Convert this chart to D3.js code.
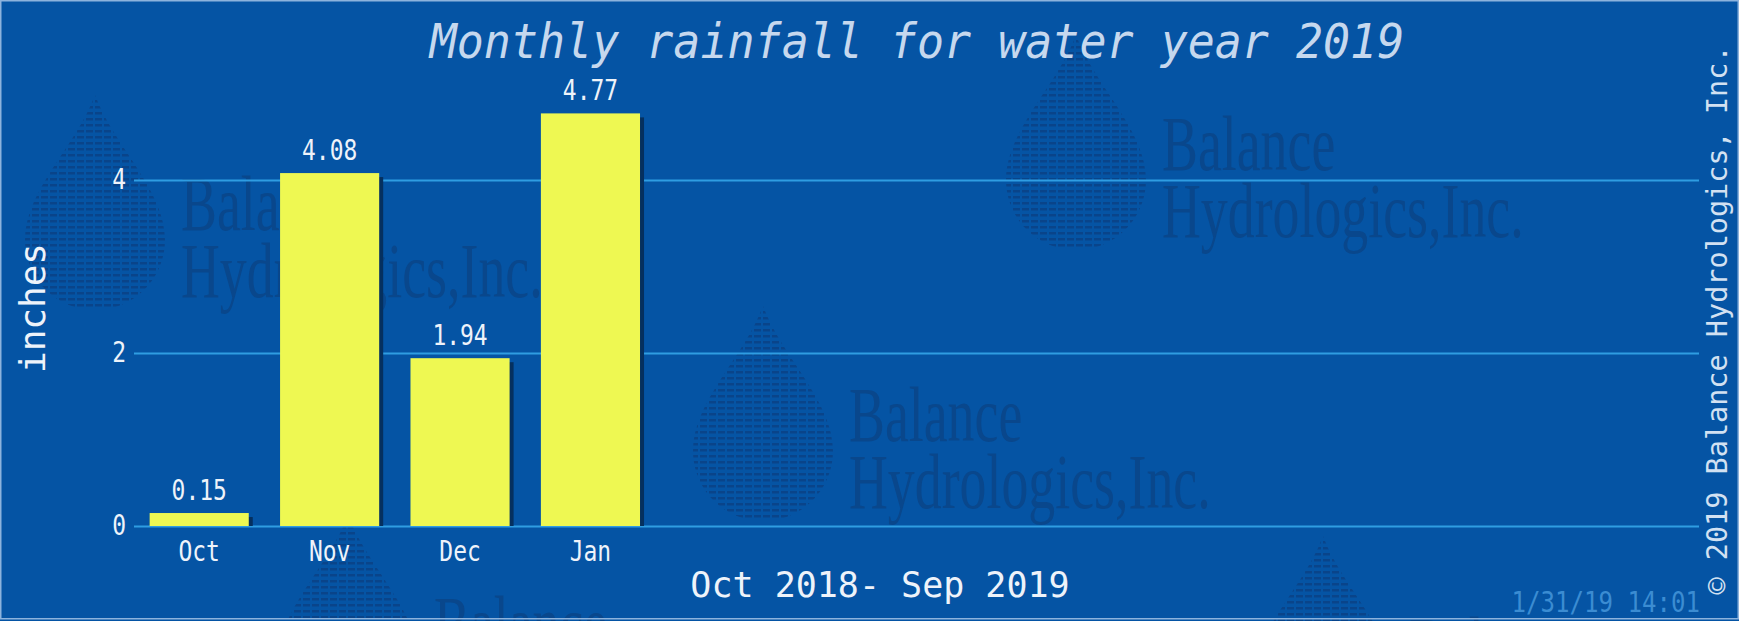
<!DOCTYPE html>
<html>
<head>
<meta charset="utf-8">
<script src="https://cdn.jsdelivr.net/npm/d3@7"></script>
<style>
  html, body { margin: 0; padding: 0; background: #0554a4; }
  svg { display: block; }
</style>
</head>
<body>
<svg id="chart"></svg>
<script>
// data (inches)
const months = ['Oct', 'Nov', 'Dec', 'Jan', 'Feb', 'Mar', 'Apr', 'May', 'Jun', 'Jul', 'Aug', 'Sep'];
const rainMonths = ['Oct', 'Nov', 'Dec', 'Jan'];
const rainfall = [0.15, 4.08, 1.94, 4.77];
const yTicks = [0, 2, 4];

const title = 'Monthly rainfall for water year 2019';
const xTitle = 'Oct 2018- Sep 2019';
const yTitle = 'inches';
const copyright = '\u00a9 2019 Balance Hydrologics, Inc.';
const stamp = '1/31/19 14:01';

// watermark logos: bottom-centre of each drop
const logos = [[95, 310], [1076, 250], [763, 521], [348, 730], [1323, 751]];

const W = 1739, H = 621;
const mono = '"DejaVu Sans Mono", monospace';
const squeeze = 0.82;

const svg = d3.select('#chart').attr('width', W).attr('height', H);

svg.append('rect').attr('width', W).attr('height', H).attr('fill', '#0554a4');

// ---- watermark
const defs = svg.append('defs');
defs.append('pattern')
  .attr('id', 'dropLines')
  .attr('patternUnits', 'userSpaceOnUse')
  .attr('width', 9).attr('height', 6)
  .append('rect')
  .attr('width', 7).attr('height', 2.5)
  .attr('fill', '#09448a');

const wm = svg.append('g').attr('class', 'watermark');
logos.forEach(([lx, ly]) => {
  const g = wm.append('g').attr('transform', `translate(${lx},${ly})`);
  g.append('path')
    .attr('d', 'M0,-215 C18,-165 70,-120 70,-70 A70,70 0 0 1 -70,-70 C-70,-120 -18,-165 0,-215 Z')
    .attr('fill', 'url(#dropLines)');
  g.append('text')
    .attr('transform', 'translate(86,-80) scale(0.69,1)')
    .attr('font-family', '"Liberation Serif", serif')
    .attr('font-size', 78)
    .attr('fill', '#09478c')
    .text('Balance');
  g.append('text')
    .attr('transform', 'translate(86,-13) scale(0.69,1)')
    .attr('font-family', '"Liberation Serif", serif')
    .attr('font-size', 78)
    .attr('fill', '#09478c')
    .text('Hydrologics,Inc.');
});

// ---- scales
const x = d3.scaleBand()
  .domain(months)
  .range([134, 1699])
  .paddingInner(0.24)
  .paddingOuter(0.12);

const y = d3.scaleLinear().domain([0, 5]).range([526, 93.5]);

// ---- y grid + labels
const yAxis = svg.append('g')
  .attr('transform', 'translate(134,0)')
  .call(d3.axisLeft(y).tickValues(yTicks).tickSize(-(1699 - 134)).tickPadding(8).tickFormat(d3.format('d')));
yAxis.select('.domain').remove();
yAxis.selectAll('.tick line').attr('stroke', '#2f9de2').attr('stroke-width', 2);
yAxis.selectAll('.tick text')
  .attr('font-family', mono)
  .attr('font-size', 28)
  .attr('fill', '#eef3fa')
  .attr('x', -8 / squeeze)
  .attr('transform', `scale(${squeeze},1)`);

// ---- bars
const bars = svg.append('g');
const data = rainMonths.map((m, i) => ({ month: m, value: rainfall[i] }));

bars.selectAll('rect.shadow')
  .data(data)
  .join('rect')
  .attr('class', 'shadow')
  .attr('x', (d) => x(d.month) + 4)
  .attr('y', (d) => y(d.value) + 4)
  .attr('width', x.bandwidth())
  .attr('height', (d) => Math.max(0, y(0) - y(d.value) - 4))
  .attr('fill', '#05305f');

bars.selectAll('rect.bar')
  .data(data)
  .join('rect')
  .attr('class', 'bar')
  .attr('x', (d) => x(d.month))
  .attr('y', (d) => y(d.value))
  .attr('width', x.bandwidth())
  .attr('height', (d) => y(0) - y(d.value))
  .attr('fill', '#eef852');

bars.selectAll('g.val')
  .data(data)
  .join('g')
  .attr('class', 'val')
  .attr('transform', (d) => `translate(${x(d.month) + x.bandwidth() / 2},${y(d.value) - 13}) scale(${squeeze},1)`)
  .append('text')
  .attr('text-anchor', 'middle')
  .attr('font-family', mono)
  .attr('font-size', 28)
  .attr('fill', '#eef3fa')
  .text((d) => d3.format('.2f')(d.value));

// ---- x axis labels (only months with data)
const xAxis = svg.append('g')
  .attr('transform', `translate(0,${y(0)})`)
  .call(d3.axisBottom(x).tickValues(rainMonths).tickSize(0).tickPadding(15));
xAxis.select('.domain').remove();
xAxis.selectAll('.tick text')
  .attr('font-family', mono)
  .attr('font-size', 28)
  .attr('fill', '#eef3fa')
  .attr('transform', `scale(${squeeze},1)`);

// ---- titles
svg.append('text')
  .attr('transform', 'translate(917,58) scale(0.937,1)')
  .attr('text-anchor', 'middle')
  .attr('font-family', mono)
  .attr('font-style', 'italic')
  .attr('font-size', 48)
  .attr('fill', '#c6d8ee')
  .text(title);

svg.append('text')
  .attr('x', 880).attr('y', 597)
  .attr('text-anchor', 'middle')
  .attr('font-family', mono)
  .attr('font-size', 35)
  .attr('fill', '#eef3fa')
  .text(xTitle);

svg.append('text')
  .attr('transform', 'translate(45,308) rotate(-90)')
  .attr('text-anchor', 'middle')
  .attr('font-family', mono)
  .attr('font-size', 36)
  .attr('fill', '#eef3fa')
  .text(yTitle);

svg.append('text')
  .attr('transform', 'translate(1727,320) rotate(-90)')
  .attr('text-anchor', 'middle')
  .attr('font-family', mono)
  .attr('font-size', 28.5)
  .attr('fill', '#d2e1f2')
  .text(copyright);

svg.append('text')
  .attr('transform', 'translate(1700,612) scale(0.86,1)')
  .attr('text-anchor', 'end')
  .attr('font-family', mono)
  .attr('font-size', 28)
  .attr('fill', '#3b8cd2')
  .text(stamp);

// thin light frame
svg.append('rect')
  .attr('x', 0.75).attr('y', 0.75)
  .attr('width', W - 1.5).attr('height', H - 3)
  .attr('fill', 'none')
  .attr('stroke', '#8db3dd')
  .attr('stroke-width', 1.5);
</script>
</body>
</html>
